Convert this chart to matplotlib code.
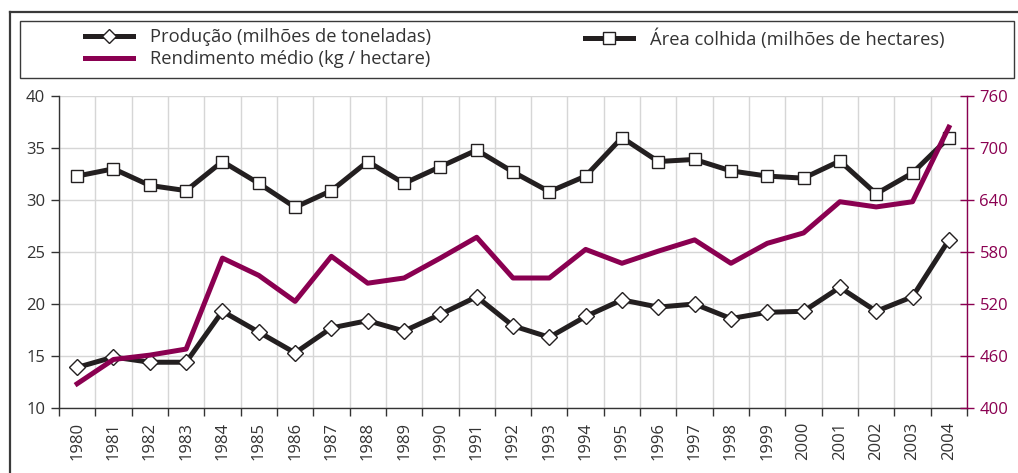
import matplotlib
matplotlib.use('Agg')
import matplotlib.pyplot as plt
from matplotlib.lines import Line2D
from matplotlib.patches import Rectangle
import numpy as np

plt.rcParams['font.family'] = ['Open Sans', 'DejaVu Sans']

years = [str(y) for y in range(1980, 2005)]
producao = [13.9, 14.9, 14.4, 14.4, 19.3, 17.3, 15.3, 17.7, 18.4, 17.4, 19.0, 20.7, 17.9,
            16.8, 18.8, 20.4, 19.7, 20.0, 18.6, 19.2, 19.3, 21.6, 19.3, 20.7, 26.15]
area = [32.3, 33.0, 31.4, 30.9, 33.7, 31.6, 29.3, 30.9, 33.7, 31.6, 33.2, 34.8, 32.7,
        30.8, 32.3, 36.0, 33.7, 33.9, 32.8, 32.3, 32.1, 33.75, 30.6, 32.6, 36.0]
rendimento = [428, 456, 461, 468, 573, 553, 523, 575, 544, 550, 573, 597, 550,
              550, 583, 567, 581, 594, 567, 590, 602, 638, 632, 638, 724]

left_ticks = [10, 15, 20, 25, 30, 35, 40]
right_ticks = [400, 460, 520, 580, 640, 700, 760]

lbl_prod = 'Produção (milhões de toneladas)'
lbl_area = 'Área colhida (milhões de hectares)'
lbl_rend = 'Rendimento médio (kg / hectare)'

DARK = '#231f20'
PURPLE = '#8a0051'
TXT = '#333333'
GRID = '#d6d6d6'

W, H = 1018, 473
fig = plt.figure(figsize=(W / 100, H / 100), dpi=100)

ax = fig.add_axes([59 / W, 1 - 408 / H, 908 / W, 312 / H])
x = np.arange(len(years))
ax.set_xlim(-0.5, len(years) - 0.5)
ax.set_ylim(left_ticks[0], left_ticks[-1])
ax.set_yticks(left_ticks)
ax.set_xticks(x)
ax.set_xticklabels(years, rotation=90)
ax.set_xticks(np.arange(-0.5, len(years), 1), minor=True)
ax.tick_params(axis='x', which='major', length=0, pad=10, labelsize=12, labelcolor=TXT)
ax.tick_params(axis='x', which='minor', length=6, width=1, color=TXT, direction='out')
ax.tick_params(axis='y', length=6, width=1, color=TXT, labelsize=12, labelcolor=TXT, pad=4)
ax.grid(axis='y', which='major', color=GRID, lw=1)
ax.grid(axis='x', which='minor', color=GRID, lw=1)
ax.set_axisbelow(True)
for s in ['top', 'right']:
    ax.spines[s].set_visible(False)
for s in ['left', 'bottom']:
    ax.spines[s].set_color(TXT)
    ax.spines[s].set_linewidth(1)

ax.plot(x, area, color=DARK, lw=3.6, marker='s', ms=9, mfc='white', mec=DARK, mew=1, zorder=3)
ax.plot(x, producao, color=DARK, lw=3.6, marker='D', ms=8, mfc='white', mec=DARK, mew=1, zorder=3)

ax2 = ax.twinx()
ax2.set_ylim(right_ticks[0], right_ticks[-1])
ax2.set_yticks(right_ticks)
ax2.plot(x, rendimento, color=PURPLE, lw=3.6, zorder=4)
for s in ['top', 'left', 'bottom']:
    ax2.spines[s].set_visible(False)
ax2.spines['right'].set_color(PURPLE)
ax2.spines['right'].set_linewidth(1)
ax2.tick_params(axis='y', direction='inout', length=10, width=1, color=PURPLE,
                labelcolor=PURPLE, labelsize=12, pad=4)

# frame
fig.add_artist(Line2D([10 / W, 1], [1 - 12 / H, 1 - 12 / H], transform=fig.transFigure,
                      color='#3a3a3a', lw=1.6))
fig.add_artist(Line2D([10 / W, 10 / W], [0, 1 - 12 / H], transform=fig.transFigure,
                      color='#3a3a3a', lw=1.6))
fig.add_artist(Rectangle((20 / W, 1 - 78 / H), (1014 - 20) / W, (78 - 21) / H,
                         transform=fig.transFigure, fill=False, ec='#3a3a3a', lw=1))

h_prod = Line2D([], [], color=DARK, lw=3.6, marker='D', ms=7, mfc='white', mec=DARK, mew=1)
h_area = Line2D([], [], color=DARK, lw=3.6, marker='s', ms=8, mfc='white', mec=DARK, mew=1)
h_rend = Line2D([], [], color=PURPLE, lw=3.6)

common = dict(loc='upper left', frameon=False, fontsize=13.2, borderpad=0, borderaxespad=0,
              handlelength=2.6, handletextpad=0.93, labelspacing=0.22, labelcolor=TXT)
fig.legend([h_prod, h_rend], [lbl_prod, lbl_rend], bbox_to_anchor=(85 / W, 1 - 28 / H), **common)
fig.legend([h_area], [lbl_area], bbox_to_anchor=(585 / W, 1 - 28 / H), **common)

fig.savefig('out.png', dpi=100)
